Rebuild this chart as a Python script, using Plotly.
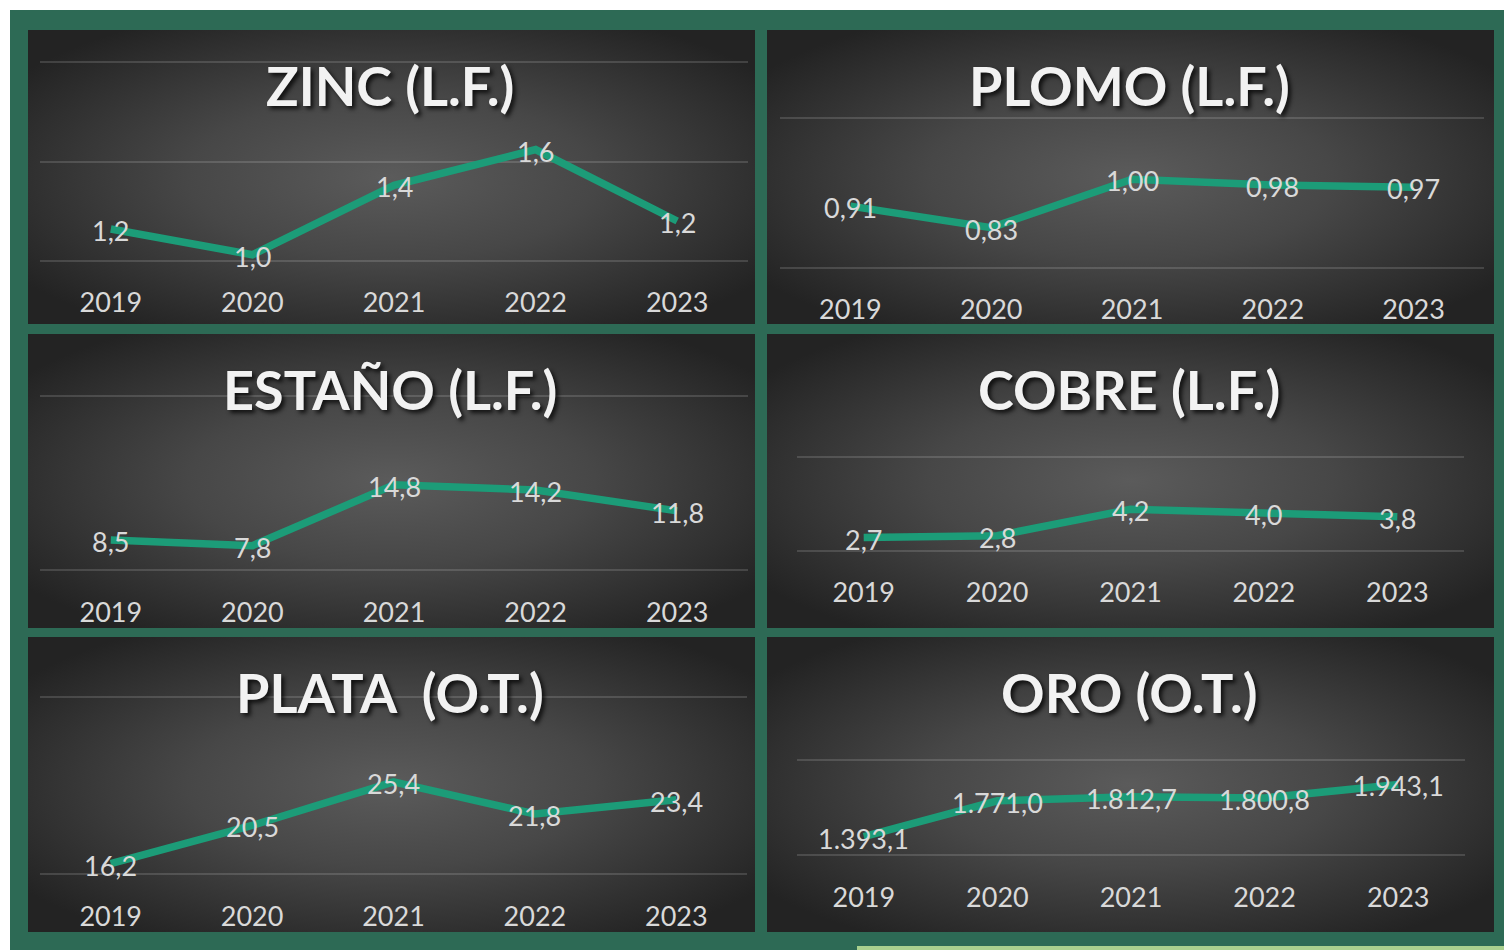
import base64
import plotly.graph_objects as go

# ---------------- data ----------------
years = ["2019", "2020", "2021", "2022", "2023"]
zinc = [1.16, 1.03, 1.38, 1.56, 1.20]
plomo = [0.906, 0.834, 0.996, 0.977, 0.969]
estano = [8.46, 7.8, 14.8, 14.2, 11.8]
cobre = [2.7, 2.8, 4.2, 4.0, 3.8]
plata = [16.2, 20.5, 25.4, 21.8, 23.4]
oro = [1393.1, 1771.0, 1812.7, 1800.8, 1943.1]

titles = ["ZINC (L.F.)", "PLOMO (L.F.)", "ESTAÑO (L.F.)", "COBRE (L.F.)",
          "PLATA\u00a0 (O.T.)", "ORO (O.T.)"]
series = [zinc, plomo, estano, cobre, plata, oro]
decimals = [1, 2, 1, 1, 1, 1]
grids = [(1.0, 2.0, 0.5), (0.7, 1.2, 0.5), (5, 25, 20), (2, 7, 5), (15, 35, 20), (1200, 2200, 1000)]

# ---------------- layout geometry (pixels) ----------------
W, H = 1504, 950
panel_rects = [(28, 30, 755, 324), (767, 30, 1494, 324),
               (28, 334, 755, 628), (767, 334, 1494, 628),
               (28, 637, 755, 932), (767, 637, 1494, 932)]
plot_x = [(40, 748), (780, 1484), (40, 748), (797, 1464), (40, 747), (797, 1465)]
grid_px = [(260.7, 62.3), (267.7, 118.3), (570, 396), (550.7, 456.7), (874.3, 696.7), (855, 760)]

GREEN = "#2d6a55"
LINE = "#1c9c78"
LABEL = "#d9d9d9"


def fmt_es(v, d):
    s = f"{v:,.{d}f}"
    return s.replace(",", "X").replace(".", ",").replace("X", ".")


def grad_svg(w, h):
    svg = (f"<svg xmlns='http://www.w3.org/2000/svg' width='{w}' height='{h}' preserveAspectRatio='none'>"
           "<defs><radialGradient id='g' cx='50%' cy='50%' r='62%'>"
           "<stop offset='0' stop-color='#5b5b5b'/><stop offset='0.45' stop-color='#474747'/>"
           "<stop offset='1' stop-color='#232323'/></radialGradient></defs>"
           f"<rect x='0' y='0' width='{w}' height='{h}' fill='url(#g)'/></svg>")
    return "data:image/svg+xml;base64," + base64.b64encode(svg.encode()).decode()


fig = go.Figure()
layout = dict(width=W, height=H, margin=dict(l=0, r=0, t=0, b=0),
              paper_bgcolor=GREEN, plot_bgcolor="rgba(0,0,0,0)",
              separators=",.", showlegend=False,
              font=dict(family="Lato", color=LABEL))
images, annotations = [], []
shapes = [
    dict(type="rect", xref="paper", yref="paper", x0=0, x1=1, y0=1 - 10 / H, y1=1,
         fillcolor="white", line=dict(width=0), layer="above"),
    dict(type="rect", xref="paper", yref="paper", x0=0, x1=10 / W, y0=0, y1=1,
         fillcolor="white", line=dict(width=0), layer="above"),
    dict(type="rect", xref="paper", yref="paper", x0=857 / W, x1=1, y0=0, y1=1 - 946 / H,
         fillcolor="#a9d08e", line=dict(width=0), layer="above"),
]

PAD = 2.5  # px of plot area beyond the outer grid lines
for i in range(6):
    sfx = "" if i == 0 else str(i + 1)
    x0, y0, x1, y1 = panel_rects[i]
    images.append(dict(source=grad_svg(x1 - x0, y1 - y0), xref="paper", yref="paper",
                       x=x0 / W, y=1 - y0 / H, sizex=(x1 - x0) / W, sizey=(y1 - y0) / H,
                       xanchor="left", yanchor="top", sizing="stretch", layer="below"))
    gmin, gmax, step = grids[i]
    gb, gt = grid_px[i]
    eps = (gmax - gmin) / (gb - gt) * PAD
    px0, px1 = plot_x[i]
    layout["xaxis" + sfx] = dict(domain=[px0 / W, px1 / W], anchor="y" + sfx, type="category",
                                 range=[-0.5, 4.5], showgrid=False, zeroline=False, showline=False,
                                 ticks="", ticklabelstandoff=21,
                                 tickfont=dict(family="Lato", size=27, color=LABEL), fixedrange=True)
    tv = []
    v = gmin
    while v <= gmax + 1e-9:
        tv.append(v)
        v += step
    layout["yaxis" + sfx] = dict(domain=[1 - (gb + PAD) / H, 1 - (gt - PAD) / H], anchor="x" + sfx,
                                 range=[gmin - eps, gmax + eps], tickvals=tv, showticklabels=False,
                                 showgrid=True, gridcolor="rgba(255,255,255,0.14)", gridwidth=1.5,
                                 zeroline=False, showline=False, fixedrange=True)
    fig.add_trace(go.Scatter(x=years, y=series[i], mode="lines",
                             xaxis="x" + sfx, yaxis="y" + sfx,
                             line=dict(color=LINE, width=7.5), hoverinfo="skip"))
    for j, val in enumerate(series[i]):
        # category axes take the category index for annotation positions
        annotations.append(dict(text=fmt_es(val, decimals[i]), x=j, y=val,
                                xref="x" + sfx, yref="y" + sfx, showarrow=False,
                                xanchor="center", yanchor="middle", yshift=-1.5,
                                font=dict(family="Lato", size=27, color=LABEL)))
    annotations.append(dict(text=titles[i], xref="paper", yref="paper",
                            x=((x0 + x1) / 2 - 1.5) / W, y=1 - (y0 + 55) / H,
                            xanchor="center", yanchor="middle", showarrow=False,
                            font=dict(family="Lato", size=54, weight="bold", color="#f2f2f2",
                                      shadow="3px 3px 4px rgba(0,0,0,0.75)")))

layout["images"] = images
layout["annotations"] = annotations
layout["shapes"] = shapes
fig.update_layout(**layout)

fig.write_html("out.html", config={"displayModeBar": False},
               post_script="document.body.style.margin='0';")
